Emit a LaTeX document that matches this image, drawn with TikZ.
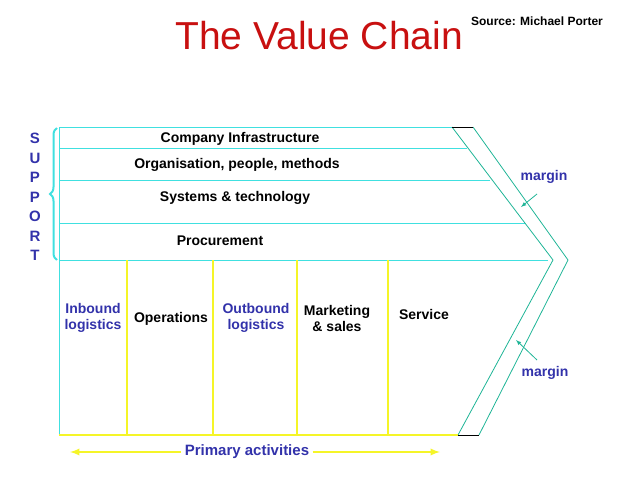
\documentclass[tikz,border=0pt]{standalone}
\usepackage{fontspec}
\setmainfont{Liberation Sans}
\usetikzlibrary{decorations.pathreplacing}
\definecolor{cyanline}{RGB}{64,224,224}
\definecolor{yelline}{RGB}{245,245,40}
\definecolor{titlered}{RGB}{200,16,16}
\definecolor{labblue}{RGB}{50,50,170}
\definecolor{arrgreen}{RGB}{30,180,150}
\begin{document}
\begin{tikzpicture}
[x=1pt, y=-1pt,
every node/.style={font=\bfseries\fontsize{14}{16}\selectfont},
blue label/.style={text=labblue},
cyan/.style={draw=cyanline, line width=1pt},
yel/.style={draw=yelline, line width=1.1pt},
chev/.style={draw=arrgreen, line width=0.8pt}]
\useasboundingbox (0,0) rectangle (638,479);

% title
\node[text=titlered, font=\fontsize{39}{44}\selectfont] (title) at (319,36) {The Value Chain};
\node[font=\bfseries\fontsize{12}{14}\selectfont] (src) at (537,21) {Source: Michael Porter};

% support rows
\coordinate (tl) at (59,127);
\coordinate (bl) at (59,435);
\draw[cyan] (tl) -- (452,127);
\draw[cyan] (59,148) -- (467,148);
\draw[cyan] (59,180) -- (490,180);
\draw[cyan] (59,223) -- (525,223);
\draw[cyan] (59,260) -- (548,260);
\draw[cyan] (tl) -- (bl);
\node (infra) at (240,139) {Company Infrastructure};
\node (org) at (237,165) {Organisation, people, methods};
\node (sys) at (235,198) {Systems \& technology};
\node (proc) at (220,241) {Procurement};

% chevron
\coordinate (it) at (452,127);
\coordinate (ip) at (553,260);
\coordinate (ib) at (458,435);
\coordinate (ot) at (473,127);
\coordinate (op) at (568,260);
\coordinate (ob) at (479,435);
\draw[chev] (it) -- (ip) -- (ib);
\draw[chev] (ot) -- (op) -- (ob);
\draw[line width=0.8pt] (it) -- (ot);
\draw[line width=0.8pt] (ib) -- (ob);

% primary activities
\draw[yel] (bl) -- (ib);
\foreach \x in {127,213,297,388}
  \draw[yel] (\x,260) -- (\x,435);
\node[blue label, align=center] (inb) at (93,318) {Inbound\\logistics};
\node (ops) at (171,319) {Operations};
\node[blue label, align=center] (outb) at (256,318) {Outbound\\logistics};
\node[align=center] (mkt) at (337,318) {Marketing\\\& sales};
\node (serv) at (424,314) {Service};

% margins
\node[blue label] (m1) at (544,177) {margin};
\node[blue label] (m2) at (545,373) {margin};
\draw[chev, -latex] (537,194) -- (521,207);
\draw[chev, -latex] (537,360) -- (516,340);

% support label
\node[blue label, align=center, font=\bfseries\fontsize{15}{19.5}\selectfont] (sup) at (35,197) {S\\U\\P\\P\\O\\R\\T};
\draw[cyanline, line width=2pt, decorate, decoration={brace, amplitude=7pt}]
  (57,260) -- (57,128);

% primary label
\node[blue label, font=\bfseries\fontsize{15}{17}\selectfont] (prim) at (247,452) {Primary activities};
\draw[yelline, line width=2.2pt, latex-] (70,452) -- (prim.west);
\draw[yelline, line width=2.2pt, -latex] (prim.east) -- (440,452);
\end{tikzpicture}
\end{document}
